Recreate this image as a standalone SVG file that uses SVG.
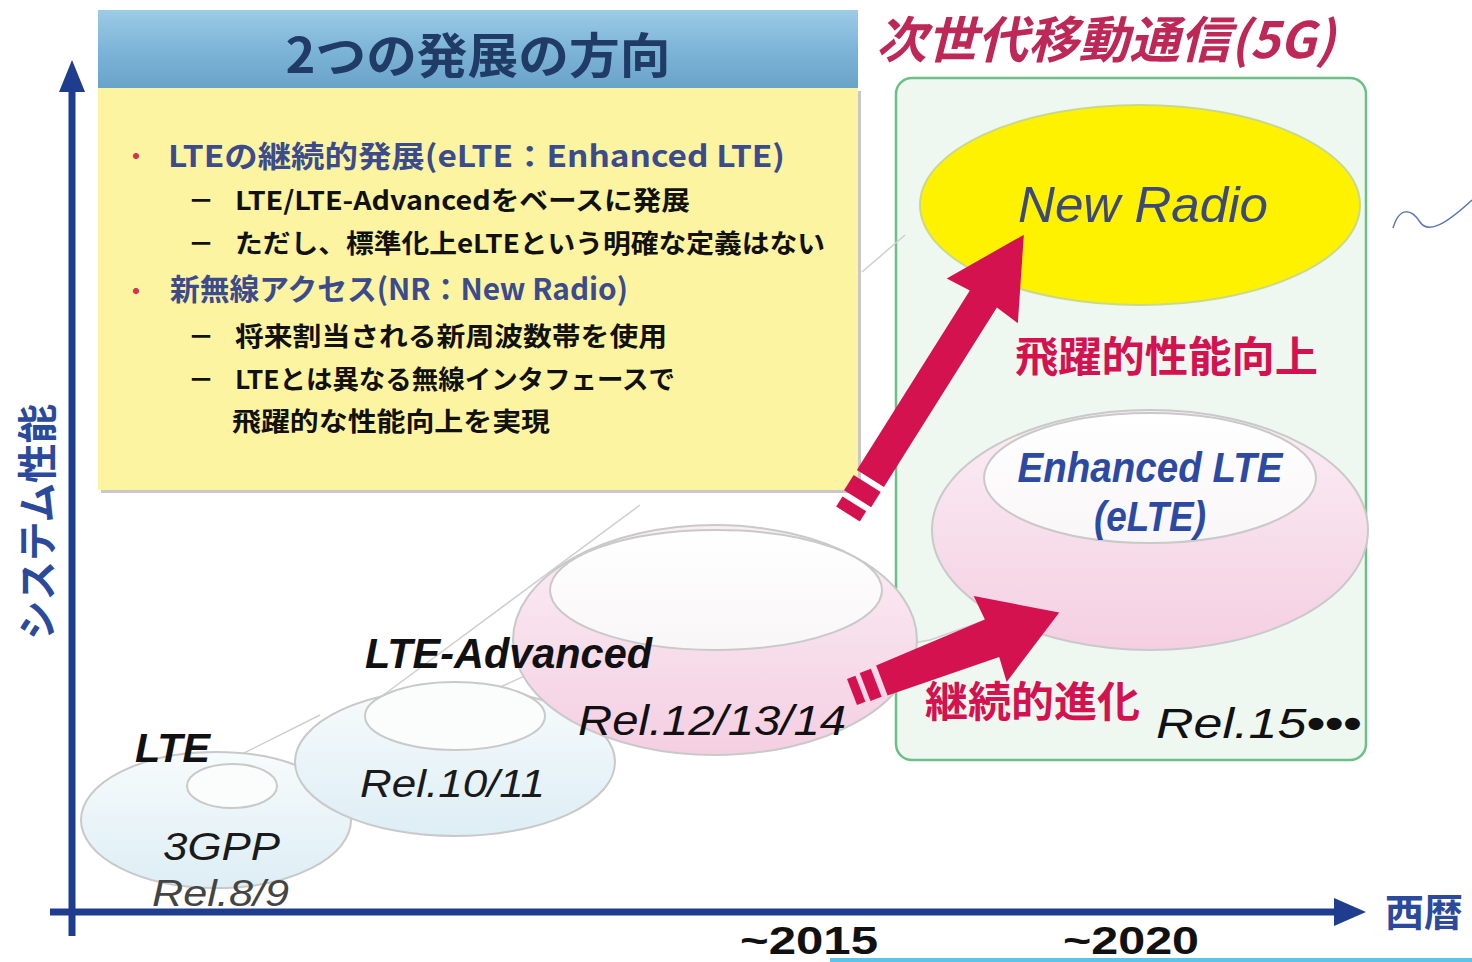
<svg xmlns="http://www.w3.org/2000/svg" width="1472" height="962" viewBox="0 0 1472 962">
<defs>
<linearGradient id="hdr" x1="0" y1="0" x2="0" y2="1"><stop offset="0" stop-color="#9ccbe6"/><stop offset="0.5" stop-color="#7db5d8"/><stop offset="1" stop-color="#6aa3c8"/></linearGradient>
<linearGradient id="pink" x1="0" y1="0" x2="0" y2="1"><stop offset="0" stop-color="#fbeef5"/><stop offset="1" stop-color="#f4cfe2"/></linearGradient>
<linearGradient id="blue" x1="0" y1="0" x2="0" y2="1"><stop offset="0" stop-color="#f7fbfc"/><stop offset="1" stop-color="#ddeef5"/></linearGradient>
<linearGradient id="inner" x1="0" y1="0" x2="0" y2="1"><stop offset="0" stop-color="#ffffff"/><stop offset="1" stop-color="#f9f6f8"/></linearGradient>
<style>
.jp{font-family:"Noto Sans CJK JP","Noto Sans",sans-serif;font-weight:bold}
.lat{font-family:"Liberation Sans",Arial,sans-serif}
.it{font-style:italic}
.b{font-weight:bold}
.axis{stroke:#1f3d8f;stroke-width:7;fill:none}
.red{fill:#d3124f}
.ell{stroke:#c9c9c9;stroke-width:2}
.cone{stroke:#cfcfcf;stroke-width:1.5;fill:none}
</style>
</defs>

<!-- header + text box -->
<g id="box">
<rect x="101" y="91" width="760" height="402" fill="#c8c8c8"/>
<rect x="98" y="88" width="760" height="402" fill="#fdf4a2"/>
<rect x="98" y="10" width="760" height="78" fill="url(#hdr)"/>
<text class="jp" x="478" y="73" text-anchor="middle" font-size="48" fill="#1f3b66" textLength="385" lengthAdjust="spacingAndGlyphs">2つの発展の方向</text>
<text class="jp" x="124" y="165" font-size="24" fill="#d2334f">・</text>
<text class="jp" x="168" y="167" font-size="30" fill="#3b4b8c" textLength="617" lengthAdjust="spacingAndGlyphs">LTEの継続的発展(eLTE：Enhanced LTE)</text>
<text class="jp" x="188" y="210" font-size="26" fill="#111">－</text>
<text class="jp" x="235" y="210" font-size="26" fill="#111" textLength="455" lengthAdjust="spacingAndGlyphs">LTE/LTE-Advancedをベースに発展</text>
<text class="jp" x="188" y="253" font-size="26" fill="#111">－</text>
<text class="jp" x="235" y="253" font-size="26" fill="#111" textLength="590" lengthAdjust="spacingAndGlyphs">ただし、標準化上eLTEという明確な定義はない</text>
<text class="jp" x="124" y="300" font-size="24" fill="#d2334f">・</text>
<text class="jp" x="170" y="300" font-size="30" fill="#3b4b8c" textLength="458" lengthAdjust="spacingAndGlyphs">新無線アクセス(NR：New Radio)</text>
<text class="jp" x="188" y="346" font-size="26" fill="#111">－</text>
<text class="jp" x="235" y="346" font-size="26" fill="#111" textLength="432" lengthAdjust="spacingAndGlyphs">将来割当される新周波数帯を使用</text>
<text class="jp" x="188" y="389" font-size="26" fill="#111">－</text>
<text class="jp" x="235" y="389" font-size="26" fill="#111" textLength="440" lengthAdjust="spacingAndGlyphs">LTEとは異なる無線インタフェースで</text>
<text class="jp" x="232" y="431" font-size="26" fill="#111" textLength="318" lengthAdjust="spacingAndGlyphs">飛躍的な性能向上を実現</text>
</g>

<!-- 5G area -->
<g id="g5">
<text class="jp it" x="876" y="58" font-size="50" fill="#be2856" textLength="459" lengthAdjust="spacingAndGlyphs">次世代移動通信(5G)</text>
<rect x="896" y="78" width="470" height="682" rx="16" fill="#eef8f1" stroke="#6cbf86" stroke-width="2.5"/>
</g>

<!-- cone lines -->
<g id="cone">
<line class="cone" x1="150" y1="800" x2="320" y2="715"/>
<line class="cone" x1="250" y1="800" x2="560" y2="660"/>
<line class="cone" x1="370" y1="705" x2="640" y2="505"/>
<line class="cone" x1="590" y1="700" x2="930" y2="640"/>
<line class="cone" x1="862" y1="272" x2="905" y2="235"/>
<line class="cone" x1="930" y1="640" x2="1135" y2="567"/>
</g>

<g id="n-lte">
<ellipse class="ell" cx="216" cy="820" rx="135" ry="68" fill="url(#blue)"/>
<ellipse class="ell" cx="232" cy="786" rx="45" ry="22" fill="#fbfdfd"/>
<text class="lat it b" x="135" y="762" font-size="40" fill="#111" textLength="75" lengthAdjust="spacingAndGlyphs">LTE</text>
<text class="lat it" x="163" y="860" font-size="38" fill="#1a1a1a" textLength="117" lengthAdjust="spacingAndGlyphs">3GPP</text>
<text class="lat it" x="152" y="906" font-size="36" fill="#444" textLength="137" lengthAdjust="spacingAndGlyphs">Rel.8/9</text>
</g>

<g id="n-rel10">
<ellipse class="ell" cx="455" cy="762" rx="160" ry="74" fill="url(#blue)"/>
<ellipse class="ell" cx="455" cy="716" rx="90" ry="34" fill="#fbfdfd"/>
<text class="lat it" x="360" y="797" font-size="38" fill="#1a1a1a" textLength="185" lengthAdjust="spacingAndGlyphs">Rel.10/11</text>
</g>

<g id="n-ltea">
<ellipse class="ell" cx="715" cy="640" rx="202" ry="115" fill="url(#pink)"/>
<ellipse class="ell" cx="716" cy="590" rx="166" ry="60" fill="url(#inner)"/>
<text class="lat it b" x="365" y="668" font-size="42" fill="#111" textLength="287" lengthAdjust="spacingAndGlyphs">LTE-Advanced</text>
<text class="lat it" x="578" y="735" font-size="42" fill="#111" textLength="268" lengthAdjust="spacingAndGlyphs">Rel.12/13/14</text>
</g>

<g id="n-elte">
<ellipse class="ell" cx="1150" cy="530" rx="218" ry="120" fill="url(#pink)"/>
<ellipse class="ell" cx="1150" cy="478" rx="166" ry="65" fill="url(#inner)"/>
<text class="lat it b" x="1150" y="482" text-anchor="middle" font-size="42" fill="#2d4aa2" textLength="265" lengthAdjust="spacingAndGlyphs">Enhanced LTE</text>
<text class="lat it b" x="1150" y="531" text-anchor="middle" font-size="42" fill="#2d4aa2" textLength="112" lengthAdjust="spacingAndGlyphs">(eLTE)</text>
</g>

<g id="n-nr">
<ellipse cx="1140" cy="205" rx="220" ry="100" fill="#fff200" stroke="#c9d98a" stroke-width="2"/>
<text class="lat it" x="1143" y="222" text-anchor="middle" font-size="50" fill="#3d4a78" textLength="250" lengthAdjust="spacingAndGlyphs">New Radio</text>
</g>

<!-- connectors -->
<g id="connectors">
<g transform="translate(848,514) rotate(-57.8)">
<rect class="red" x="0" y="-14" width="12" height="28"/>
<rect class="red" x="18" y="-16" width="18" height="32"/>
<polygon class="red" points="42,-16 254,-16 252,-42 330,0 252,42 254,16 42,16"/>
</g>
<g transform="translate(852,692) rotate(-21)">
<rect class="red" x="0" y="-14" width="9" height="28"/>
<rect class="red" x="14" y="-15" width="12" height="30"/>
<polygon class="red" points="32,-16 150,-20 148,-46 222,0 148,46 150,20 32,16"/>
</g>
</g>

<g id="labels">
<text class="jp" x="1015" y="372" font-size="42" fill="#d3124f" textLength="303" lengthAdjust="spacingAndGlyphs">飛躍的性能向上</text>
<text class="jp" x="925" y="717" font-size="42" fill="#d3124f" textLength="215" lengthAdjust="spacingAndGlyphs">継続的進化</text>
<text class="lat it" x="1156" y="738" font-size="42" fill="#111" textLength="205" lengthAdjust="spacingAndGlyphs">Rel.15<tspan font-weight="bold">•••</tspan></text>
</g>

<!-- axes -->
<g id="axes">
<line class="axis" x1="72" y1="88" x2="72" y2="936"/>
<polygon points="72,60 59,92 85,92" fill="#1f3d8f"/>
<line class="axis" x1="50" y1="912" x2="1338" y2="912"/>
<polygon points="1366,912 1334,898 1334,926" fill="#1f3d8f"/>
<text class="jp" transform="translate(52,522) rotate(-90)" text-anchor="middle" font-size="40" fill="#2b4a9c" textLength="236" lengthAdjust="spacingAndGlyphs">システム性能</text>
<text class="jp" x="1385" y="926" font-size="38" fill="#2b4a9c" textLength="78" lengthAdjust="spacingAndGlyphs">西暦</text>
<text class="lat b" x="740" y="954" font-size="38" fill="#111" textLength="138" lengthAdjust="spacingAndGlyphs">~2015</text>
<text class="lat b" x="1063" y="954" font-size="38" fill="#111" textLength="136" lengthAdjust="spacingAndGlyphs">~2020</text>
</g>

<g id="marks">
<path d="M1393,228 C1400,205 1412,210 1420,222 C1428,234 1445,225 1472,200" fill="none" stroke="#5a78b8" stroke-width="1.5"/>
<line x1="830" y1="960" x2="1472" y2="960" stroke="#5bc4e8" stroke-width="4"/>
</g>
</svg>
